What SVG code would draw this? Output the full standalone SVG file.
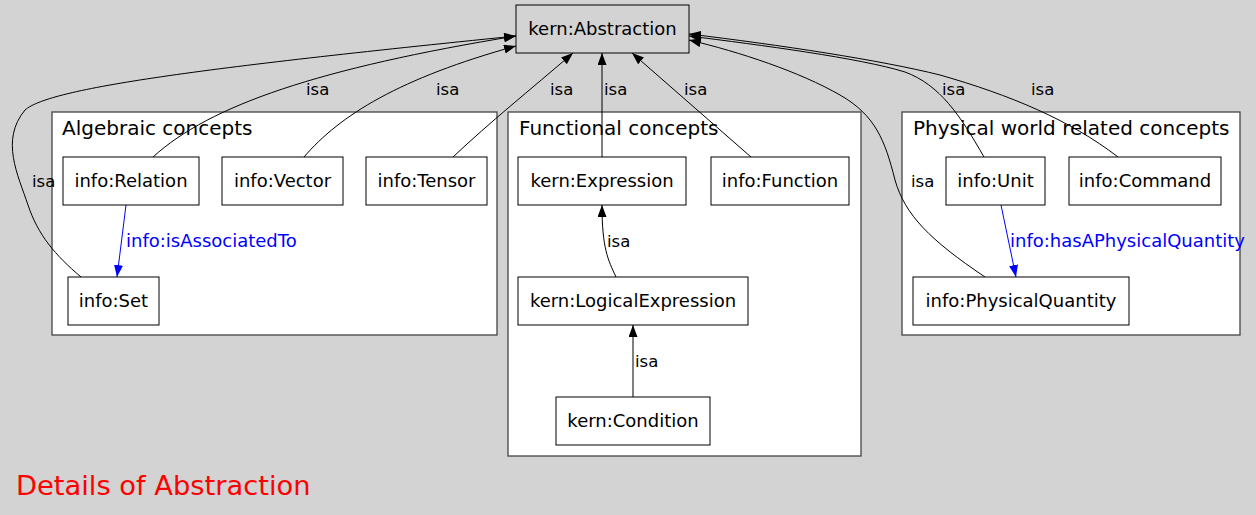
<svg xmlns="http://www.w3.org/2000/svg" width="1256" height="515" viewBox="0 0 1256 515">
<style>
text{font-family:"DejaVu Sans","Liberation Sans",sans-serif;}
.cl{fill:#fff;stroke:#444;stroke-width:1.3;}
.cll{font-size:20px;fill:#000;}
.nd{fill:#fff;stroke:#000;stroke-width:1;}
.nt{font-size:18px;text-anchor:middle;fill:#000;}
.e{fill:none;stroke:#000;stroke-width:1;marker-end:url(#ab);}
.eb{fill:none;stroke:#00f;stroke-width:1;marker-end:url(#abl);}
.il{font-size:16.5px;fill:#000;}
.bl{font-size:18px;fill:#00f;}
</style>
<defs>
<marker id="ab" markerUnits="userSpaceOnUse" markerWidth="13" markerHeight="10" refX="12" refY="4.5" orient="auto"><path d="M0,0 L12,4.5 L0,9 z" fill="#000"/></marker>
<marker id="abl" markerUnits="userSpaceOnUse" markerWidth="13" markerHeight="10" refX="12" refY="4.5" orient="auto"><path d="M0,0 L12,4.5 L0,9 z" fill="#00f"/></marker>
</defs>
<rect x="0" y="0" width="1256" height="515" fill="#d3d3d3"/>
<g id="cluster_algebraic">
<rect class="cl" x="52" y="112" width="445" height="223"/>
<text class="cll" x="62" y="135">Algebraic concepts</text>
</g>
<g id="cluster_functional">
<rect class="cl" x="508" y="112" width="353" height="344"/>
<text class="cll" x="519" y="135">Functional concepts</text>
</g>
<g id="cluster_physical">
<rect class="cl" x="902" y="112" width="338" height="223"/>
<text class="cll" x="913" y="135">Physical world related concepts</text>
</g>
<g id="connectors">
<path class="e" d="M81,277 C55,255 38,235 28,205 C18,175 0,140 25,110 C50,88 200,68 516,36"/>
<path class="e" d="M153,157 C210,105 320,68 516,36"/>
<path class="e" d="M304,157 C340,115 400,78 516,46"/>
<path class="e" d="M453,157 C490,122 530,90 573,53"/>
<path class="e" d="M602,157 L602,53"/>
<path class="e" d="M751,157 L632,53"/>
<path class="e" d="M984,157 C960,115 940,85 905,72 C860,58 760,45 689,36"/>
<path class="e" d="M1118,157 C1070,120 1010,95 940,75 C880,60 780,45 689,34"/>
<path class="e" d="M985,277 C930,240 905,215 895,180 C885,140 875,115 840,95 C800,72 740,52 689,40"/>
<path class="e" d="M616,277 C608,260 602,248 602,205"/>
<path class="e" d="M633,397 L633,325"/>
<path class="eb" d="M126,205 L117,277"/>
<path class="eb" d="M1001,205 L1016,277"/>
<text class="il" x="306" y="95">isa</text>
<text class="il" x="436" y="95">isa</text>
<text class="il" x="550" y="95">isa</text>
<text class="il" x="604" y="95">isa</text>
<text class="il" x="684" y="95">isa</text>
<text class="il" x="942" y="95">isa</text>
<text class="il" x="1031" y="95">isa</text>
<text class="il" x="32" y="187">isa</text>
<text class="il" x="911" y="187">isa</text>
<text class="il" x="607" y="247">isa</text>
<text class="il" x="635" y="367">isa</text>
<text class="bl" x="126" y="247">info:isAssociatedTo</text>
<text class="bl" x="1010" y="247">info:hasAPhysicalQuantity</text>
</g>
<g id="kern_Abstraction">
<rect x="516" y="5" width="173" height="48" fill="#d3d3d3" stroke="#000"/>
<text class="nt" x="602.5" y="35">kern:Abstraction</text>
</g>
<g id="info_Relation">
<rect class="nd" x="63" y="157" width="136" height="48"/>
<text class="nt" x="131" y="187">info:Relation</text>
</g>
<g id="info_Vector">
<rect class="nd" x="222" y="157" width="121" height="48"/>
<text class="nt" x="282.5" y="187">info:Vector</text>
</g>
<g id="info_Tensor">
<rect class="nd" x="366" y="157" width="121" height="48"/>
<text class="nt" x="426.5" y="187">info:Tensor</text>
</g>
<g id="info_Set">
<rect class="nd" x="68" y="277" width="91" height="48"/>
<text class="nt" x="113.5" y="307">info:Set</text>
</g>
<g id="kern_Expression">
<rect class="nd" x="518" y="157" width="168" height="48"/>
<text class="nt" x="602" y="187">kern:Expression</text>
</g>
<g id="info_Function">
<rect class="nd" x="711" y="157" width="138" height="48"/>
<text class="nt" x="780" y="187">info:Function</text>
</g>
<g id="kern_LogicalExpression">
<rect class="nd" x="518" y="277" width="230" height="48"/>
<text class="nt" x="633" y="307">kern:LogicalExpression</text>
</g>
<g id="kern_Condition">
<rect class="nd" x="556" y="397" width="154" height="48"/>
<text class="nt" x="633" y="427">kern:Condition</text>
</g>
<g id="info_Unit">
<rect class="nd" x="946" y="157" width="99" height="48"/>
<text class="nt" x="995.5" y="187">info:Unit</text>
</g>
<g id="info_Command">
<rect class="nd" x="1069" y="157" width="152" height="48"/>
<text class="nt" x="1145" y="187">info:Command</text>
</g>
<g id="info_PhysicalQuantity">
<rect class="nd" x="913" y="277" width="216" height="48"/>
<text class="nt" x="1021" y="307">info:PhysicalQuantity</text>
</g>
<text x="16" y="495" font-size="27.3" fill="#f00" style="font-family:'DejaVu Sans','Liberation Sans',sans-serif">Details of Abstraction</text>
</svg>
